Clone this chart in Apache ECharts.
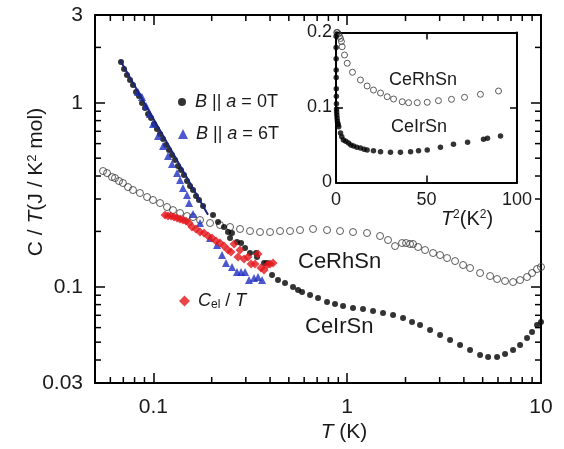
<!DOCTYPE html>
<html><head><meta charset="utf-8">
<script src="https://cdn.jsdelivr.net/npm/echarts@6/dist/echarts.min.js"></script>
<style>html,body{margin:0;padding:0;background:#fff}#c{width:564px;height:449px}</style>
</head><body><div id="c"></div>
<script>
const FONT = '"Liberation Sans", Arial, Helvetica, sans-serif';

// ---- main panel: C/T vs T (log-log) ----
const ceIrSnT = [0.0681,0.0706,0.0731,0.0758,0.0785,0.0814,0.0843,0.0874,0.0906,0.0939,0.0973,0.1008,0.1044,0.1083,0.1122,0.1162,0.1204,0.1248,0.1294,0.1340,0.1389,0.1439,0.1492,0.1546,0.1602,0.1660,0.1720,0.1805,0.2032,0.2157,0.2315,0.2427,0.2545,0.2487,0.2702,0.2834,0.2972,0.3153,0.3386,0.3427,0.3725,0.3860,0.4096,0.4396,0.4779,0.5256,0.5578,0.5850,0.6433,0.7074,0.7873,0.8656,0.9521,1.072,1.207,1.360,1.531,1.725,1.942,2.161,2.377,2.677,3.015,3.395,3.823,4.305,4.849,5.334,5.934,6.525,7.177,7.798,8.472,8.99,9.54,10.0];
const ceIrSnC = [1.665,1.526,1.416,1.330,1.249,1.144,1.088,0.997,0.937,0.869,0.826,0.767,0.720,0.677,0.635,0.590,0.554,0.520,0.4886,0.453,0.4311,0.405,0.3757,0.3528,0.3356,0.3114,0.2961,0.2748,0.2455,0.2249,0.2113,0.1985,0.1960,0.1841,0.1751,0.1729,0.1624,0.1526,0.1526,0.1452,0.1346,0.1346,0.1159,0.1088,0.1048,0.0997,0.0960,0.0937,0.0902,0.0869,0.0827,0.0806,0.0786,0.0767,0.0757,0.0738,0.0720,0.0702,0.0676,0.0644,0.0620,0.0582,0.0547,0.0514,0.0482,0.0453,0.0426,0.0415,0.0415,0.0431,0.0453,0.0482,0.0527,0.0568,0.0620,0.0644];

const ceRhSnT = [0.0550,0.0577,0.0612,0.0634,0.0665,0.0697,0.0740,0.0785,0.0853,0.0928,0.0996,0.1083,0.1176,0.1263,0.1373,0.1492,0.1602,0.1741,0.1961,0.2208,0.2487,0.2800,0.3153,0.3551,0.3999,0.4504,0.5071,0.5711,0.6665,0.7873,0.9187,1.072,1.266,1.478,1.625,1.766,1.919,2.013,2.110,2.187,2.321,2.522,2.774,3.015,3.276,3.603,3.963,4.305,4.849,5.461,5.934,6.525,7.177,7.798,8.472,8.99,9.54,10.0];
const ceRhSnC = [0.4257,0.415,0.395,0.390,0.3757,0.3664,0.3484,0.3356,0.3233,0.3075,0.2961,0.2851,0.2713,0.2612,0.2517,0.2424,0.2393,0.2306,0.2221,0.2166,0.2113,0.2061,0.2009,0.1984,0.1984,0.2009,0.2009,0.2034,0.2061,0.2034,0.2009,0.1984,0.1960,0.1888,0.1795,0.1665,0.1729,0.1729,0.1708,0.1708,0.1645,0.1584,0.1526,0.1488,0.1433,0.1380,0.1313,0.1265,0.1188,0.1144,0.1102,0.1075,0.1061,0.1088,0.1130,0.1188,0.1249,0.1281];

const field6T_T = [0.0833,0.0874,0.0917,0.0961,0.0996,0.1057,0.1122,0.1190,0.1248,0.1325,0.1373,0.1422,0.1492,0.1528,0.1602,0.1741,0.1961,0.2130,0.2261,0.2371,0.2545,0.2702,0.2834,0.2972,0.3116,0.3307,0.3468,0.3637];
const field6T_C = [1.144,1.075,0.960,0.869,0.767,0.660,0.582,0.514,0.4647,0.415,0.3804,0.3441,0.3152,0.2851,0.2485,0.2221,0.1841,0.1686,0.1488,0.1346,0.1281,0.1203,0.1203,0.1203,0.1088,0.1116,0.1130,0.1088];

const celT = [0.1149,0.1190,0.1234,0.1278,0.1325,0.1373,0.1422,0.1474,0.1528,0.1583,0.1660,0.1741,0.1826,0.1914,0.2008,0.2106,0.2208,0.2315,0.2427,0.2516,0.2608,0.2734,0.2800,0.2936,0.3079,0.3192,0.3346,0.3468,0.3593,0.3725,0.3860,0.3999,0.4145];
const celC = [0.2455,0.2424,0.2424,0.2393,0.2364,0.2335,0.2306,0.2277,0.2221,0.2113,0.2061,0.1984,0.1960,0.1888,0.1841,0.1773,0.1729,0.1665,0.1584,0.1545,0.1708,0.1451,0.1584,0.1416,0.1451,0.1330,0.1330,0.1507,0.1264,0.1233,0.1313,0.1330,0.1346];

const fitT = [0.0673, 0.1914];
const fitC = [1.708, 0.246];

// ---- inset: C/T vs T^2 ----
const insetRhT2 = [0.4,0.8,1.3,1.9,2.5,3.0,3.4,4.7,6.2,9.1,13.5,17.2,20.7,24.6,28.3,31.8,36.6,40.1,44.9,50.4,56.6,63.8,71.0,79.8,89.8];
const insetRhC  = [0.200,0.200,0.198,0.195,0.192,0.188,0.181,0.170,0.159,0.147,0.1367,0.1287,0.1233,0.1193,0.1144,0.1113,0.1077,0.1064,0.1064,0.1069,0.1091,0.1109,0.1136,0.1176,0.1220];
const insetIrT2 = [0.05,0.06,0.08,0.10,0.12,0.16,0.20,0.25,0.30,0.35,0.45,0.60,0.75,0.95,1.2,1.5,2.5,3.2,4.1,5.4,6.9,8.2,9.7,11.5,13.5,15.5,17.2,20.7,24.6,30.1,35.6,41.2,45.6,50.4,57.7,64.9,72.7,81.5,83.7,90.9];
const insetIrC  = [0.195,0.180,0.165,0.150,0.140,0.125,0.115,0.105,0.098,0.094,0.090,0.086,0.082,0.079,0.077,0.0744,0.066,0.061,0.0567,0.055,0.0527,0.050,0.0487,0.047,0.046,0.0445,0.0433,0.0424,0.0411,0.0403,0.0403,0.0411,0.0424,0.0433,0.0469,0.0509,0.0536,0.0576,0.0589,0.0620];

// ---- axes ----
const xRange = [0.05, 10];
const yRange = [0.03, 3];
const xTickLabels = [0.1, 1, 10];
const yTickLabels = [0.03, 0.1, 1, 3];
const xMinor = [0.06,0.07,0.08,0.09,0.2,0.3,0.4,0.5,0.6,0.7,0.8,0.9,2,3,4,5,6,7,8,9];
const yMinor = [0.04,0.05,0.06,0.07,0.08,0.09,0.2,0.3,0.4,0.5,0.6,0.7,0.8,0.9,2];
const insetXRange = [0, 100], insetXStep = 50;
const insetYRange = [0, 0.2], insetYStep = 0.1;

const zip = (a, b) => a.map((v, i) => [v, b[i]]);
const fmtLog = list => v => {
  const m = list.find(t => Math.abs(Math.log10(v / t)) < 1e-4);
  return m === undefined ? '' : String(m);
};

const TXT = '#1a1a1a';
const lineStyle = {color: '#000', width: 2};

function logAxis(dim, pos, showLabel) {
  const isX = dim === 'x';
  return {
    type: 'log', logBase: 10, gridIndex: 0,
    min: isX ? xRange[0] : yRange[0], max: isX ? xRange[1] : yRange[1],
    position: pos,
    axisLine: {show: true, onZero: false, lineStyle},
    axisTick: {show: true, inside: true, length: 10, lineStyle: {color: '#000', width: 1.5}},
    axisLabel: {show: showLabel, margin: isX ? 14 : 12, color: TXT, fontSize: 21, fontFamily: FONT,
      formatter: fmtLog(isX ? xTickLabels : yTickLabels)},
    splitLine: {show: false}
  };
}
function insetAxis(dim, pos, showLabel) {
  const isX = dim === 'x';
  return {
    type: 'value', gridIndex: 1,
    min: isX ? insetXRange[0] : insetYRange[0], max: isX ? insetXRange[1] : insetYRange[1],
    interval: isX ? insetXStep : insetYStep,
    position: pos,
    axisLine: {show: true, onZero: false, lineStyle},
    axisTick: {show: true, inside: true, length: 7, lineStyle: {color: '#000', width: 1.5}},
    axisLabel: {show: showLabel, margin: isX ? 9 : 4, color: TXT, fontSize: 18, fontFamily: FONT},
    splitLine: {show: false}
  };
}

function tickLine(x1, y1, x2, y2) {
  return {type: 'line', shape: {x1, y1, x2, y2}, style: {stroke: '#000', lineWidth: 1.5}};
}

const chart = echarts.init(document.getElementById('c'), null, {renderer: 'canvas'});
chart.setOption({
  animation: false,
  backgroundColor: '#fff',
  textStyle: {fontFamily: FONT, color: TXT},
  grid: [
    {left: 95, top: 15, width: 446, height: 368, show: false},
    {left: 336, top: 32.5, width: 181, height: 150, show: true, backgroundColor: '#fff', borderWidth: 0}
  ],
  xAxis: [logAxis('x', 'bottom', true), logAxis('x', 'top', false),
          insetAxis('x', 'bottom', true), insetAxis('x', 'top', false)],
  yAxis: [logAxis('y', 'left', true), logAxis('y', 'right', false),
          insetAxis('y', 'left', true), insetAxis('y', 'right', false)],
  legend: [
    {data: ['B || a = 0T'], left: 178, top: 93, padding: 0, itemWidth: 8, itemHeight: 8,
     formatter: () => '{i|B} || {i|a} = 0T',
     textStyle: {fontSize: 18, color: TXT, padding: [0, 0, 0, 4], rich: {i: {fontStyle: 'italic', fontSize: 18}}}},
    {data: ['B || a = 6T'], left: 178, top: 125, padding: 0, itemWidth: 10, itemHeight: 10,
     formatter: () => '{i|B} || {i|a} = 6T',
     textStyle: {fontSize: 18, color: TXT, padding: [0, 0, 0, 3], rich: {i: {fontStyle: 'italic', fontSize: 18}}}},
    {data: ['C_el / T'], left: 179, top: 292, padding: 0, itemWidth: 11, itemHeight: 11,
     formatter: () => '{i|C}{sub|el} / {i|T}',
     textStyle: {fontSize: 18, color: TXT, padding: [0, 0, 0, 3],
       rich: {i: {fontStyle: 'italic', fontSize: 18}, sub: {fontSize: 12, verticalAlign: 'bottom', padding: [8, 0, 0, 0]}}}}
  ],
  graphic: [
    {type: 'text', x: 36, y: 182, rotation: Math.PI / 2,
     style: {text: 'C / {i|T}(J / K{sup|2} mol)', fill: TXT, fontSize: 21, fontFamily: FONT,
       align: 'center', verticalAlign: 'middle', textAlign: 'center', textVerticalAlign: 'middle',
       rich: {i: {fontStyle: 'italic', fontSize: 21, fontFamily: FONT}, sup: {fontSize: 13, verticalAlign: 'top', fontFamily: FONT}}}},
    {type: 'text', x: 344, y: 432,
     style: {text: '{i|T} (K)', fill: TXT, fontSize: 21, fontFamily: FONT,
       align: 'center', verticalAlign: 'middle', textAlign: 'center', textVerticalAlign: 'middle',
       rich: {i: {fontStyle: 'italic', fontSize: 21, fontFamily: FONT}}}},
    {type: 'text', x: 298, y: 262,
     style: {text: 'CeRhSn', fill: TXT, fontSize: 22, fontFamily: FONT, align: 'left', verticalAlign: 'middle', textAlign: 'left', textVerticalAlign: 'middle'}},
    {type: 'text', x: 305, y: 327,
     style: {text: 'CeIrSn', fill: TXT, fontSize: 22, fontFamily: FONT, align: 'left', verticalAlign: 'middle', textAlign: 'left', textVerticalAlign: 'middle'}},
    {type: 'text', x: 389, y: 80, z: 100,
     style: {text: 'CeRhSn', fill: TXT, fontSize: 18, fontFamily: FONT, align: 'left', verticalAlign: 'middle', textAlign: 'left', textVerticalAlign: 'middle'}},
    {type: 'text', x: 391, y: 127, z: 100,
     style: {text: 'CeIrSn', fill: TXT, fontSize: 18, fontFamily: FONT, align: 'left', verticalAlign: 'middle', textAlign: 'left', textVerticalAlign: 'middle'}},
    {type: 'text', x: 467, y: 219,
     style: {text: '{i|T}{sup|2}(K{sup|2})', fill: TXT, fontSize: 20, fontFamily: FONT,
       align: 'center', verticalAlign: 'middle', textAlign: 'center', textVerticalAlign: 'middle',
       rich: {i: {fontStyle: 'italic', fontSize: 20, fontFamily: FONT}, sup: {fontSize: 12, verticalAlign: 'top', fontFamily: FONT}}}}
  ],
  series: [
    {name: 'CeRhSn', type: 'scatter', xAxisIndex: 0, yAxisIndex: 0, data: zip(ceRhSnT, ceRhSnC),
     symbol: 'circle', symbolSize: 7, itemStyle: {color: 'rgba(255,255,255,0)', borderColor: '#333', borderWidth: 1}, z: 2},
    {name: 'B || a = 0T', type: 'scatter', xAxisIndex: 0, yAxisIndex: 0, data: zip(ceIrSnT, ceIrSnC),
     symbol: 'circle', symbolSize: 6, itemStyle: {color: '#000'}, z: 3},
    {name: 'B || a = 6T', type: 'scatter', xAxisIndex: 0, yAxisIndex: 0, data: zip(field6T_T, field6T_C),
     symbol: 'triangle', symbolSize: 8, itemStyle: {color: '#1f2fc2'}, z: 4},
    {name: 'fit', type: 'line', xAxisIndex: 0, yAxisIndex: 0, data: zip(fitT, fitC),
     symbol: 'none', lineStyle: {color: '#18247a', width: 2}, z: 5},
    {name: 'C_el / T', type: 'scatter', xAxisIndex: 0, yAxisIndex: 0, data: zip(celT, celC),
     symbol: 'diamond', symbolSize: 9, itemStyle: {color: '#e3161c'}, z: 6},
    {name: 'CeRhSn inset', type: 'scatter', xAxisIndex: 2, yAxisIndex: 2, data: zip(insetRhT2, insetRhC),
     symbol: 'circle', symbolSize: 6, itemStyle: {color: 'rgba(255,255,255,0)', borderColor: '#333', borderWidth: 1}, z: 3},
    {name: 'CeIrSn inset', type: 'scatter', xAxisIndex: 2, yAxisIndex: 2, data: zip(insetIrT2, insetIrC),
     symbol: 'circle', symbolSize: 5.5, itemStyle: {color: '#000'}, z: 3},
    {name: 'x minor ticks', type: 'custom', xAxisIndex: 0, yAxisIndex: 0, silent: true, z: 10,
     data: xMinor.map(v => [v, 1]),
     renderItem: (p, api) => {
       const v = api.value(0);
       const b = api.coord([v, yRange[0]]);
       const t = api.coord([v, yRange[1]]);
       return {type: 'group', children: [tickLine(b[0], b[1], b[0], b[1] - 6), tickLine(t[0], t[1], t[0], t[1] + 6)]};
     }},
    {name: 'y minor ticks', type: 'custom', xAxisIndex: 0, yAxisIndex: 0, silent: true, z: 10,
     data: yMinor.map(v => [1, v]),
     renderItem: (p, api) => {
       const v = api.value(1);
       const l = api.coord([xRange[0], v]);
       const r = api.coord([xRange[1], v]);
       return {type: 'group', children: [tickLine(l[0], l[1], l[0] + 6, l[1]), tickLine(r[0], r[1], r[0] - 6, r[1])]};
     }}
  ]
});
</script></body></html>
